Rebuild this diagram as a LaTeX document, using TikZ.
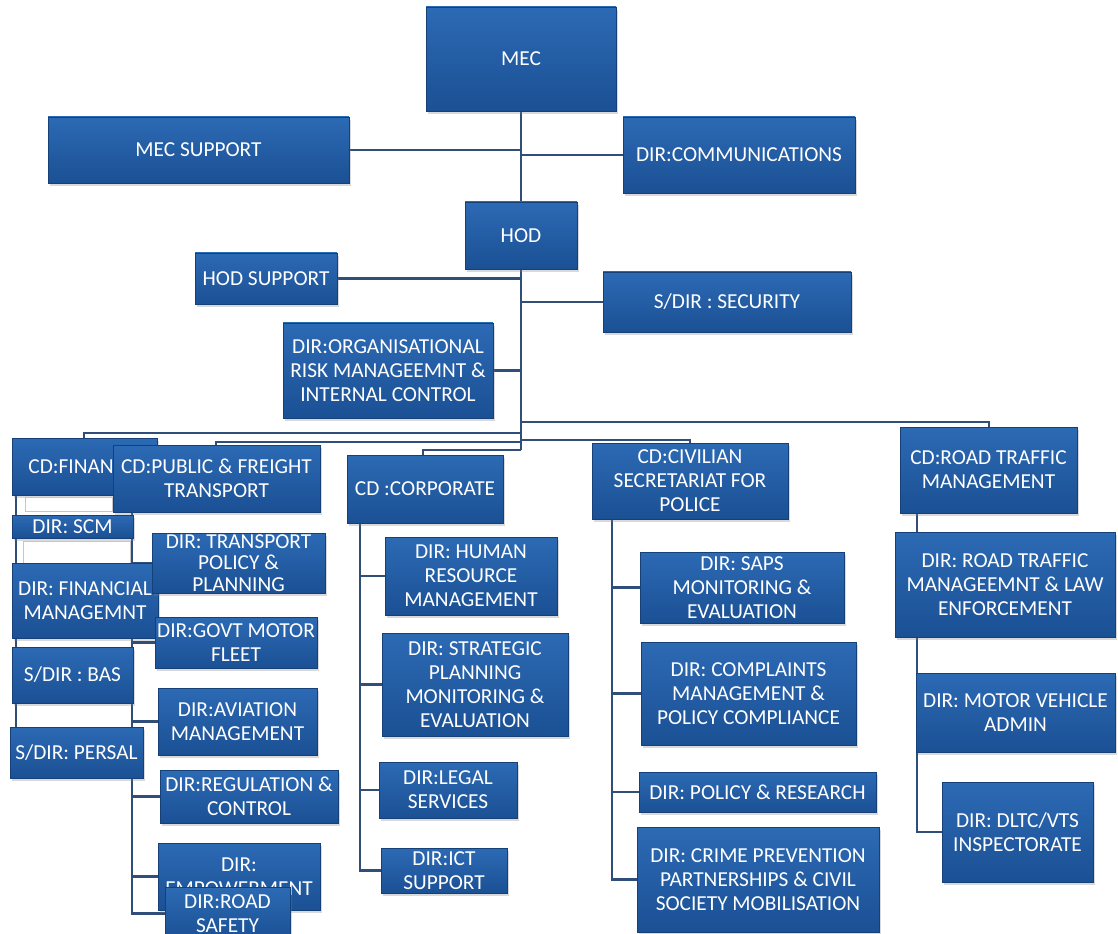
\documentclass[tikz,border=0pt]{standalone}
\usepackage{fontspec}
\setmainfont{Carlito}
\usepackage{tikz}
\usetikzlibrary{shadows,backgrounds}
\definecolor{boxtop}{RGB}{44,106,180}
\definecolor{boxbot}{RGB}{27,80,148}
\definecolor{boxedge}{RGB}{22,64,120}
\definecolor{linkblue}{RGB}{48,78,122}

\begin{document}
\begin{tikzpicture}[
  x=0.75pt, y=-0.75pt,
  orgbox/.style={inner sep=0pt, top color=boxtop, bottom color=boxbot,
    draw=boxedge, line width=0.4pt, text=white, align=center,
    font=\fontsize{16}{18}\selectfont,
    drop shadow={opacity=0.3, shadow xshift=1.5pt, shadow yshift=-2pt}},
  ghostbox/.style={inner sep=0pt, draw=gray!45, fill=white, line width=0.6pt},
  boxsize/.style 2 args={minimum width=#1*0.75pt, minimum height=#2*0.75pt},
  ]
  \tikzset{%
    link/.style={
      draw=linkblue,
      line width=1.6pt,
    },
    boxlabel/.style={
      text=white,
      font=\fontsize{16}{18}\selectfont,
    },
  }
  \useasboundingbox (0,0) rectangle (1118,934);
  %Nodes
  \node[orgbox, boxsize={190}{104}] (mec) at (521,59) {MEC};
  \node[orgbox, boxsize={301}{66}] (mecsup) at (198.5,150) {MEC SUPPORT};
  \node[orgbox, boxsize={232}{76}] (dircomm) at (739,155) {DIR:COMMUNICATIONS};
  \node[orgbox, boxsize={112}{67}] (hod) at (521,235.5) {HOD};
  \node[orgbox, boxsize={142}{51}] (hodsup) at (266,278.5) {HOD SUPPORT};
  \node[orgbox, boxsize={248}{60}] (sdirsec) at (727,302) {S/DIR : SECURITY};
  \node[orgbox, boxsize={210}{95}] (dirrisk) at (388,370.5) {DIR:ORGANISATIONAL\\RISK MANAGEEMNT \&\\INTERNAL CONTROL};
  \coordinate (trunk) at (521,450);
  % finance and public transport
  \node[orgbox, boxsize={145}{57},
    label={[boxlabel, anchor=west, xshift=9pt]west:{CD:FINAN}}] (cdfin) at (84.5,466.5) {};
  \node[orgbox, boxsize={207}{67}] (cdpub) at (216.5,478.5) {CD:PUBLIC \& FREIGHT\\TRANSPORT};
  \node[ghostbox, boxsize={87}{14}] (ghost1) at (68.5,504) {};
  \node[orgbox, boxsize={121}{23}] (dirscm) at (72.5,526.5) {DIR: SCM};
  \node[ghostbox, boxsize={107}{22}] (ghost2) at (76.5,552) {};
  \node[orgbox, boxsize={146}{75}] (dirfin) at (85,600.5) {DIR: FINANCIAL\\MANAGEMNT};
  \node[orgbox, boxsize={173}{60}, font=\fontsize{16}{16}\selectfont] (dirtpp) at (238.5,563) {DIR: TRANSPORT\\POLICY \&\\PLANNING};
  \node[orgbox, boxsize={162}{51}] (dirgmf) at (236,642.5) {DIR:GOVT MOTOR\\FLEET};
  \node[orgbox, boxsize={121}{56}] (sdirbas) at (72.5,675) {S/DIR : BAS};
  \node[orgbox, boxsize={159}{67}] (diravi) at (237.5,721.5) {DIR:AVIATION\\MANAGEMENT};
  \node[orgbox, boxsize={133}{51}] (sdirper) at (76.5,752.5) {S/DIR: PERSAL};
  \node[orgbox, boxsize={178}{53}] (dirreg) at (249,796.5) {DIR:REGULATION \&\\CONTROL};
  \node[orgbox, boxsize={162}{67}] (diremp) at (239,876.5) {DIR:\\EMPOWERMENT};
  \node[orgbox, boxsize={125}{53}] (dirrs) at (227.5,913.5) {DIR:ROAD\\SAFETY};
  % corporate
  \node[orgbox, boxsize={156}{68}] (cdcorp) at (425,489) {CD :CORPORATE};
  \node[orgbox, boxsize={172}{78}] (dirhr) at (471,576) {DIR: HUMAN\\RESOURCE\\MANAGEMENT};
  \node[orgbox, boxsize={186}{103}] (dirspme) at (475,684.5) {DIR: STRATEGIC\\PLANNING\\MONITORING \&\\EVALUATION};
  \node[orgbox, boxsize={138}{56}] (dirlegal) at (448,790) {DIR:LEGAL\\SERVICES};
  \node[orgbox, boxsize={126}{45}] (dirict) at (444,870.5) {DIR:ICT\\SUPPORT};
  % civilian secretariat
  \node[orgbox, boxsize={196}{76}] (cdciv) at (690,481) {CD:CIVILIAN\\SECRETARIAT FOR\\POLICE};
  \node[orgbox, boxsize={204}{71}] (dirsaps) at (742,587.5) {DIR: SAPS\\MONITORING \&\\EVALUATION};
  \node[orgbox, boxsize={215}{103}] (dircomp) at (748.5,693.5) {DIR: COMPLAINTS\\MANAGEMENT \&\\POLICY COMPLIANCE};
  \node[orgbox, boxsize={237}{40}] (dirpr) at (757.5,792) {DIR: POLICY \& RESEARCH};
  \node[orgbox, boxsize={242}{105}] (dircp) at (758,879.5) {DIR: CRIME PREVENTION\\PARTNERSHIPS \& CIVIL\\SOCIETY MOBILISATION};
  % road traffic
  \node[orgbox, boxsize={177}{86}] (cdrtm) at (988.5,470) {CD:ROAD TRAFFIC\\MANAGEMENT};
  \node[orgbox, boxsize={220}{105}] (dirrtm) at (1005,584.5) {DIR: ROAD TRAFFIC\\MANAGEEMNT \& LAW\\ENFORCEMENT};
  \node[orgbox, boxsize={199}{79}] (dirmva) at (1015.5,712.5) {DIR: MOTOR VEHICLE\\ADMIN};
  \node[orgbox, boxsize={151}{100}] (dirdltc) at (1017.5,832) {DIR: DLTC/VTS\\INSPECTORATE};
  %Joints
  \coordinate (jfin) at (84,433);
  \coordinate (jpub) at (216,442);
  \coordinate (jcorp) at (423,450);
  \coordinate (jciv) at (690,440);
  \coordinate (jrtm) at (989,422);
  \coordinate (finspine) at ([xshift=3pt]cdfin.south west);
  \coordinate (pubspine) at ([xshift=14.25pt]cdpub.south west);
  \coordinate (corpspine) at ([xshift=9.75pt]cdcorp.south west);
  \coordinate (civspine) at ([xshift=15pt]cdciv.south west);
  \coordinate (rtmspine) at ([xshift=16.5pt]dirrtm.south west);
  %Lines
  \begin{scope}[on background layer]
  \draw[link]
    (mec.south) -- (trunk)
    (mecsup.east) -- (mecsup.east -| trunk)
    (dircomm.west) -- (dircomm.west -| trunk)
    (hodsup.east) -- (hodsup.east -| trunk)
    (sdirsec.west) -- (sdirsec.west -| trunk)
    (dirrisk.east) -- (dirrisk.east -| trunk)
    % bus
    (jfin -| trunk) -| (jfin |- cdfin.north)
    (jpub -| trunk) -| (jpub |- cdpub.north)
    (jcorp -| trunk) -| (jcorp |- cdcorp.north)
    (jciv -| trunk) -| (jciv |- cdciv.north)
    (jrtm -| trunk) -| (jrtm |- cdrtm.north)
    % finance
    (finspine) -- (finspine |- sdirper.north)
    % public transport
    (pubspine) |- (dirrs.west)
    (pubspine |- dirtpp.west) -- (dirtpp.west)
    (pubspine |- dirgmf.west) -- (dirgmf.west)
    (pubspine |- diravi.west) -- (diravi.west)
    (pubspine |- dirreg.west) -- (dirreg.west)
    (pubspine |- diremp.west) -- (diremp.west)
    % corporate
    (corpspine) |- (dirict.west)
    (corpspine |- dirhr.west) -- (dirhr.west)
    (corpspine |- dirspme.west) -- (dirspme.west)
    (corpspine |- dirlegal.west) -- (dirlegal.west)
    % civilian secretariat
    (civspine) |- (dircp.west)
    (civspine |- dirsaps.west) -- (dirsaps.west)
    (civspine |- dircomp.west) -- (dircomp.west)
    (civspine |- dirpr.west) -- (dirpr.west)
    % road traffic
    (rtmspine |- cdrtm.south) -- (rtmspine |- dirrtm.north)
    (rtmspine) |- (dirdltc.west)
    ;
  \end{scope}
\end{tikzpicture}
\end{document}
